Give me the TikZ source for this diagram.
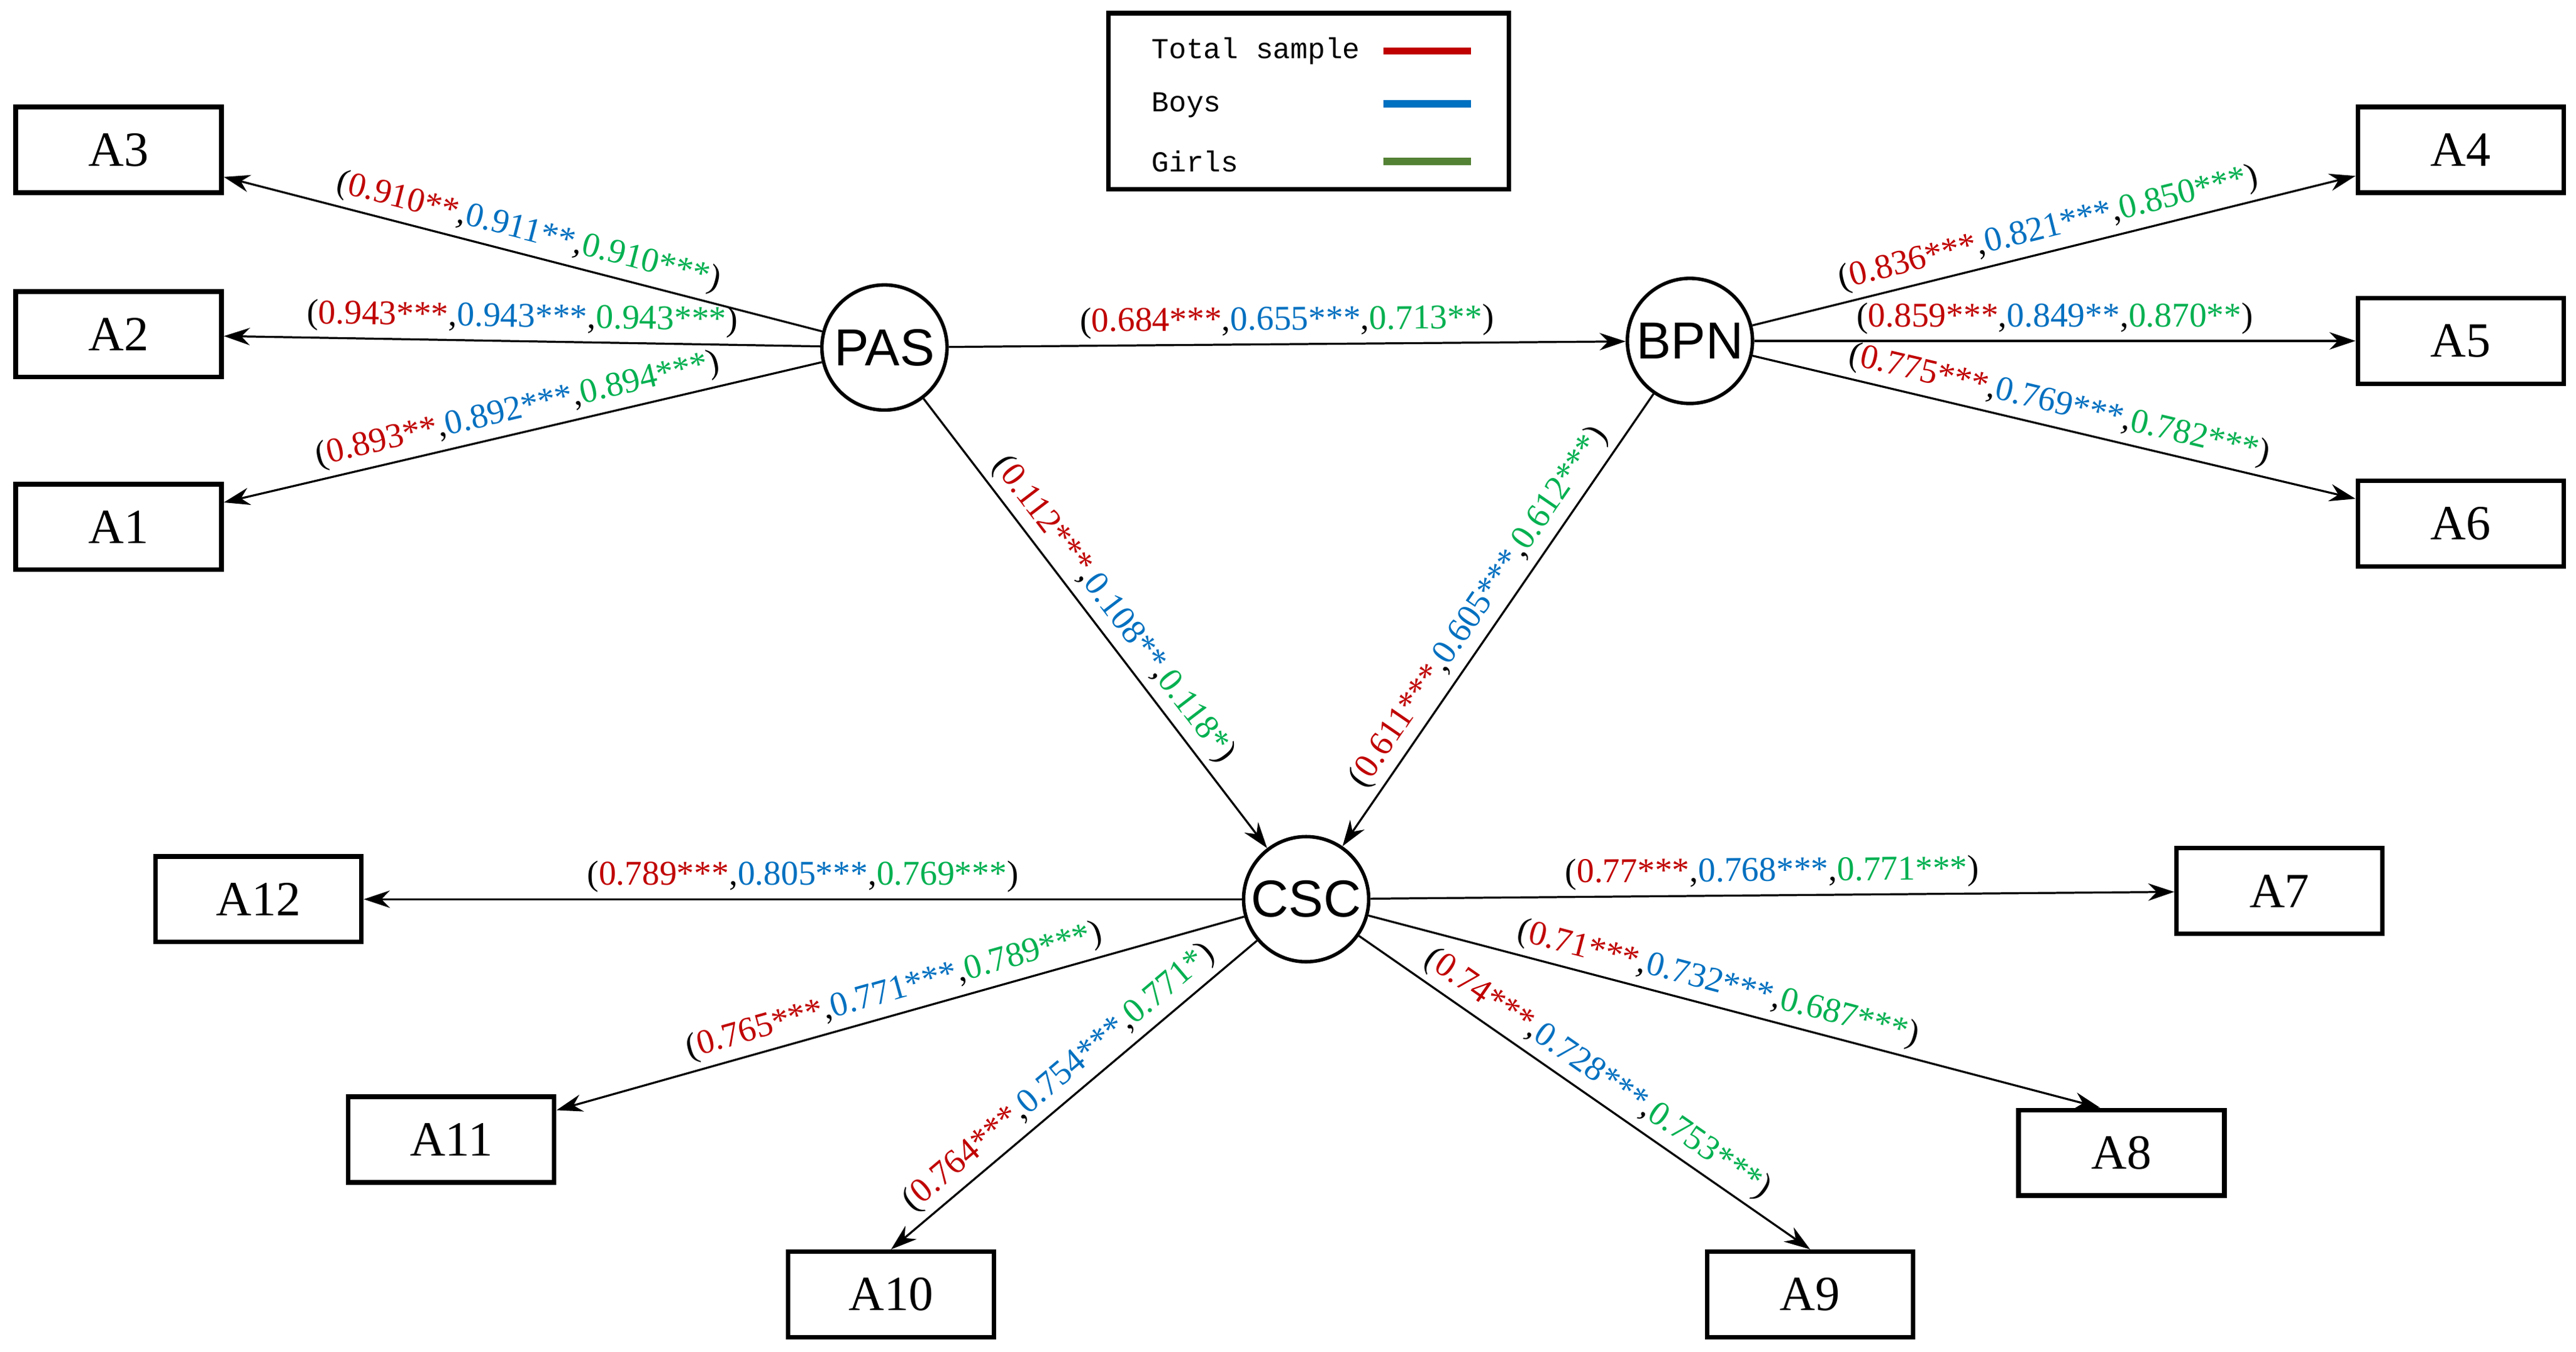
\documentclass[tikz,border=0pt]{standalone}
\usepackage{fontspec}
\setmainfont{Liberation Serif}
\newfontfamily\sansf{Liberation Sans}
\newfontfamily\monof{Liberation Mono}
\usetikzlibrary{arrows.meta}
\definecolor{cr}{RGB}{192,0,0}
\definecolor{cb}{RGB}{0,112,192}
\definecolor{cg}{RGB}{0,176,80}
\definecolor{lg}{RGB}{84,130,53}
\newcommand{\lab}[3]{(\textcolor{cr}{#1},\textcolor{cb}{#2},\textcolor{cg}{#3})}
\begin{document}
\begin{tikzpicture}[x=0.02cm,y=-0.02cm,
 box/.style={draw,line width=1.6pt,minimum width=2.5cm,minimum height=1.04cm,font=\fontsize{17}{17}\selectfont},
 circ/.style={draw,circle,line width=1.2pt,minimum size=1.52cm,inner sep=0pt,font=\sansf\fontsize{18}{18}\selectfont},
 arr/.style={-{Stealth[length=9pt,width=6pt]},line width=0.7pt},
 lb/.style={sloped,above,font=\fontsize{12}{12}\selectfont,inner sep=2pt},
 lt/.style={anchor=west,font=\monof\fontsize{10}{10}\selectfont}]
\useasboundingbox (0,0) rectangle (1564,820.6);
\node[circ] (PAS) at (537,211) {PAS};
\node[circ] (BPN) at (1026,207) {BPN};
\node[circ] (CSC) at (793,546) {CSC};
\node[box] (A3) at (72,91) {A3};
\node[box] (A2) at (72,203) {A2};
\node[box] (A1) at (72,320) {A1};
\node[box] (A4) at (1494,91) {A4};
\node[box] (A5) at (1494,207) {A5};
\node[box] (A6) at (1494,318) {A6};
\node[box] (A12) at (157,546) {A12};
\node[box] (A11) at (274,692) {A11};
\node[box] (A10) at (541,786) {A10};
\node[box] (A9) at (1099,786) {A9};
\node[box] (A8) at (1288,700) {A8};
\node[box] (A7) at (1384,541) {A7};
\draw[arr] (PAS) -- node[lb]{\lab{0.910**}{0.911**}{0.910***}} (A3);
\draw[arr] (PAS) -- node[lb]{\lab{0.943***}{0.943***}{0.943***}} (A2);
\draw[arr] (PAS) -- node[lb]{\lab{0.893**}{0.892***}{0.894***}} (A1);
\draw[arr] (PAS) -- node[lb]{\lab{0.684***}{0.655***}{0.713**}} (BPN);
\draw[arr] (BPN) -- node[lb]{\lab{0.836***}{0.821***}{0.850***}} (A4);
\draw[arr] (BPN) -- node[lb]{\lab{0.859***}{0.849**}{0.870**}} (A5);
\draw[arr] (BPN) -- node[lb]{\lab{0.775***}{0.769***}{0.782***}} (A6);
\draw[arr] (PAS) -- node[lb]{\lab{0.112***}{0.108**}{0.118*}} (CSC);
\draw[arr] (BPN) -- node[lb]{\lab{0.611***}{0.605***}{0.612***}} (CSC);
\draw[arr] (CSC) -- node[lb]{\lab{0.789***}{0.805***}{0.769***}} (A12);
\draw[arr] (CSC) -- node[lb]{\lab{0.77***}{0.768***}{0.771***}} (A7);
\draw[arr] (CSC) -- node[lb]{\lab{0.765***}{0.771***}{0.789***}} (A11);
\draw[arr] (CSC) -- node[lb]{\lab{0.764***}{0.754***}{0.771*}} (A10.north);
\draw[arr] (CSC) -- node[lb,pos=0.47]{\lab{0.71***}{0.732***}{0.687***}} ([xshift=-0.26cm]A8.north);
\draw[arr] (CSC) -- node[lb]{\lab{0.74***}{0.728***}{0.753***}} (A9.north);
\node[draw,line width=1.6pt,minimum width=4.86cm,minimum height=2.14cm] (leg) at (794.5,61.5) {};
\node[lt] (t1) at (693,31) {Total sample};
\node[lt] (t2) at (693,64) {Boys};
\node[lt] (t3) at (693,98) {Girls};
\coordinate (r1) at (840,31); \coordinate (r2) at (893,31);
\coordinate (b1) at (840,63); \coordinate (b2) at (893,63);
\coordinate (g1) at (840,98); \coordinate (g2) at (893,98);
\draw[cr,line width=2.5pt] (r1) -- (r2);
\draw[cb,line width=2.5pt] (b1) -- (b2);
\draw[lg,line width=2.5pt] (g1) -- (g2);
\end{tikzpicture}
\end{document}
